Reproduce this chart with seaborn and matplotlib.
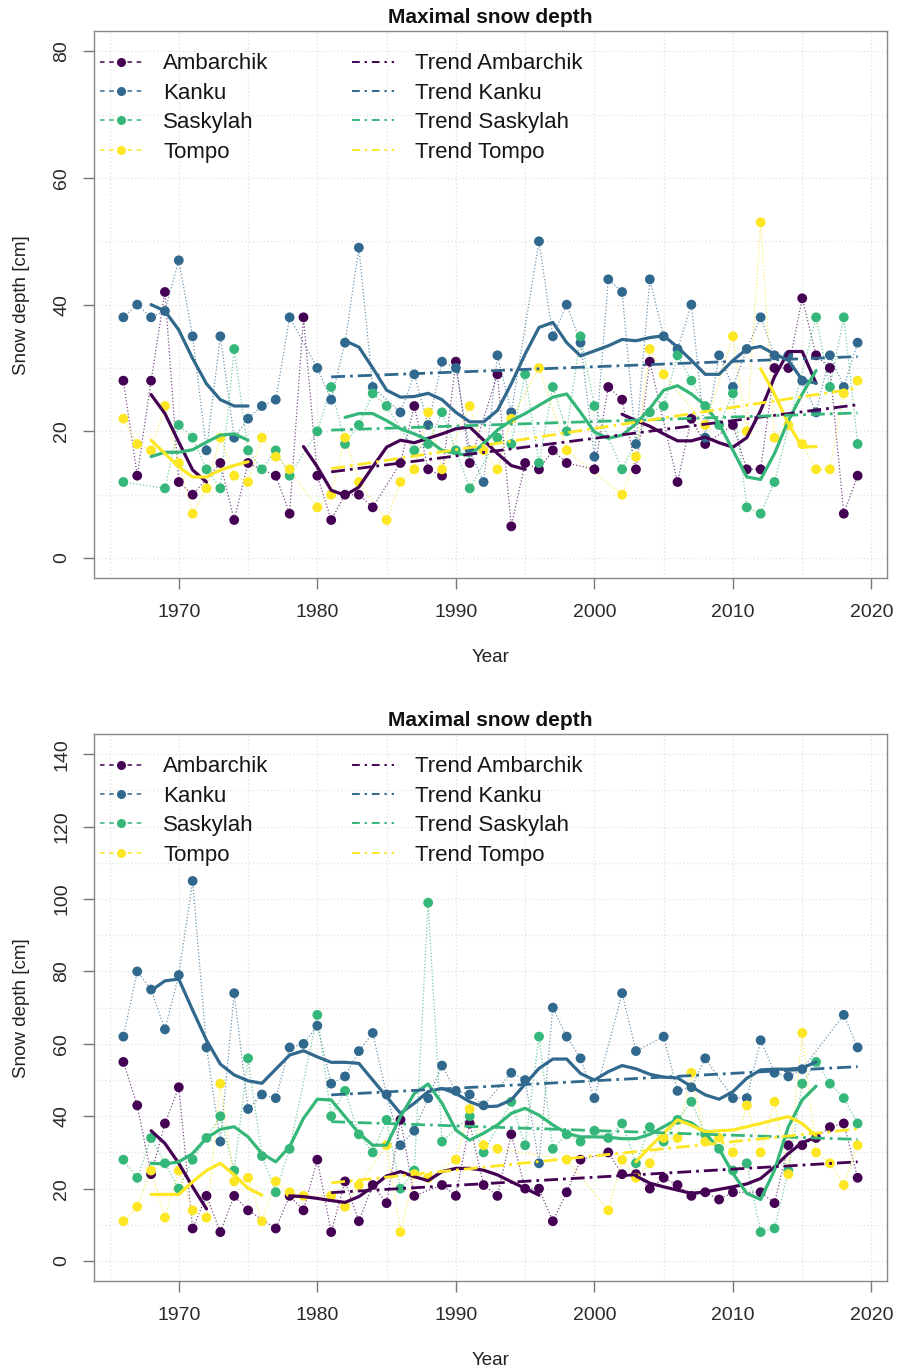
import numpy as np
import pandas as pd
import matplotlib
matplotlib.use("Agg")
import matplotlib.pyplot as plt
import seaborn as sns
from matplotlib.lines import Line2D

nan = np.nan

# Stations and colours (viridis, 4 levels)
stations = ["Ambarchik", "Kanku", "Saskylah", "Tompo"]
colors = ["#440154", "#31688E", "#35B779", "#FDE725"]
palette = dict(zip(stations, colors))

years = list(range(1966, 2020))

top_ambarchik = [28, 13, 28, 42, 12, 10, nan, 15, 6, 15,
                 nan, 13, 7, 38, 13, 6, 10, 10, 8, nan,
                 15, 24, 14, 13, 31, 15, nan, 29, 5, 15,
                 14, 17, 15, nan, 14, 27, 25, 14, 31, nan,
                 12, 22, 18, nan, 21, 14, 14, 30, 30, 41,
                 32, 30, 7, 13]
top_kanku = [38, 40, 38, 39, 47, 35, 17, 35, 19, 22,
             24, 25, 38, nan, 30, 25, 34, 49, 27, nan,
             23, 29, 21, 31, 30, 17, 12, 32, 23, nan,
             50, 35, 40, 34, 16, 44, 42, 18, 44, 35,
             33, 40, 19, 32, 27, 33, 38, 32, 32, 28,
             23, 32, 27, 34]
top_saskylah = [12, nan, nan, 11, 21, 19, 14, 11, 33, 17,
                14, 17, 13, nan, 20, 27, 18, 21, 26, 24,
                nan, 17, 18, 23, 17, 11, nan, 19, 18, 29,
                15, 27, 20, 35, 24, nan, 14, nan, 23, 24,
                32, 28, 24, 21, 26, 8, 7, 12, nan, nan,
                38, 27, 38, 18]
top_tompo = [22, 18, 17, 24, 15, 7, 11, 19, 13, 12,
             19, 16, 14, nan, 8, 10, 19, 12, nan, 6,
             12, 14, 23, 14, nan, 24, 17, 14, 22, nan,
             30, nan, 17, nan, nan, nan, 10, 16, 33, 29,
             nan, nan, 21, nan, 35, 20, 53, 19, 21, 18,
             14, 14, 26, 28]

# smoothed curves: (first year, values)
top_smooth_ambarchik = [(1968, [25.8, 22.8, 18.3, 13.9, 12.0]),
                        (1979, [17.6, 14.4, 10.7, 9.9, 11.2, 14.4, 17.5, 18.6, 18.2, 18.9,
                                19.6, 20.4, 20.7, 18.6, 16.5, 14.6, 14.0]),
                        (2002, [22.7, 21.7, 20.8, 19.6, 18.5, 18.5, 19.1, 18.2, 17.5, 19.0,
                                23.3, 28.6, 32.6, 32.6, 27.6])]
top_smooth_kanku = [(1968, [40, 39, 36, 31.5, 27.5, 25, 24, 24]),
                    (1982, [34.3, 33.3, 30, 26.5, 25.4, 25.5, 26, 25, 23, 21.5,
                            21.5, 23.3, 27.5, 32.2, 36.4, 37.2, 34, 31.9, 32.7, 33.5,
                            34.5, 34.3, 34.8, 35.1, 33.3, 31.2, 29, 29, 31.2, 33,
                            33.4, 32.2, 31.2, 28.1, 27.6])]
top_smooth_saskylah = [(1968, [16, 16.7, 16.7, 17.1, 18.3, 19.4, 19.6, 18.6]),
                       (1982, [22.2, 22.8, 22.8, 21.7, 20.4, 19.6, 18.6, 17, 16.5, 16.2,
                               18.1, 20.2, 21.7, 22.8, 24.1, 25.4, 25.9, 23, 19.9, 18.9,
                               19.4, 21.2, 23.6, 26.5, 27.2, 25.9, 24.1, 21.2, 17, 12.8,
                               12.4, 16.5, 21.7, 25.9, 29.6])]
top_smooth_tompo = [(1968, [18.6, 16.5, 14.4, 12.8, 12.8, 13.9, 14.6, 15.2]),
                    (2012, [29.9, 25.9, 21.2, 17.5, 17.6])]

# linear trends 1981-2019: (start, end)
trend_years = [1981, 2019]
top_trend = {"Ambarchik": [13.6, 24.2], "Kanku": [28.6, 31.8],
             "Saskylah": [20.2, 22.9], "Tompo": [14.1, 26.8]}

# ---- Bottom panel ----
bot_ambarchik = [55, 43, 24, 38, 48, 9, 18, 8, 18, 14,
                 nan, 9, 18, 14, 28, 8, 22, 11, 21, 16,
                 39, 18, nan, 21, 18, 38, 21, 18, 35, 20,
                 20, 11, 19, 28, nan, 30, 24, 24, 20, 23,
                 21, 18, 19, 17, 19, nan, 19, 16, 32, 32,
                 34, 37, 38, 23]
bot_kanku = [62, 80, 75, 64, 79, 105, 59, 33, 74, 42,
             46, 45, 59, 60, 65, 49, 51, 58, 63, 46,
             32, 36, 45, 54, 47, 46, 43, nan, 52, 50,
             27, 70, 62, 56, 45, nan, 74, 58, nan, 62,
             47, 48, 56, nan, 45, 45, 61, 52, 51, 53,
             nan, nan, 68, 59]
bot_saskylah = [28, 23, 34, 27, 20, 28, 34, 40, 25, 56,
                29, 19, 31, nan, 68, 40, 47, 35, 30, 39,
                20, 25, 99, 33, nan, 40, 30, nan, 44, 32,
                62, 31, 35, 33, 36, 34, 38, 27, 37, 33,
                39, 44, 35, 31, 25, 27, 8, 9, 25, 49,
                55, 49, 45, 38]
bot_tompo = [11, 15, 25, 12, 25, 14, 12, 49, 22, 23,
             11, 22, 19, 18, nan, 18, 15, 21, nan, 32,
             8, 24, 23, nan, 28, 42, 32, 31, nan, nan,
             nan, nan, 28, nan, nan, 14, 28, 23, 27, 34,
             34, 52, 33, 34, 30, 43, 30, 44, 24, 63,
             30, 27, 21, 32]

bot_smooth_ambarchik = [(1968, [36, 32.5, 27, 20.5, 14.4]),
                        (1978, [18, 17.8, 17.3, 16.7, 16.2, 17.8, 20.5, 23.5, 24.7, 23.3,
                                22.2, 24.7, 25.6, 25.6, 25.1, 23.8, 21.9, 20.1, 18.2]),
                        (2003, [23.5, 21.5, 20.5, 19.6, 18.7, 19.1, 19.8, 20.5, 21.3, 22.8,
                                26, 29.7, 32.7, 34.2])]
bot_smooth_kanku = [(1968, [74.7, 77.4, 77.9, 69.3, 61, 54.4, 51.4, 49.8, 49.1, 53,
                            56.9, 58.1, 56.4, 54.9, 54.9, 54.6, 50, 45.4, 40.8, 43.6,
                            46.8, 47.7, 46.3, 44, 42.6, 42.8, 44.5, 48.9, 53.2, 55.8,
                            55.8, 51.8, 50, 52.3, 54, 53.1, 51.6, 50.8, 50.6, 48.2,
                            45.9, 44.7, 46.8, 50.5, 52.8, 53, 53, 53.3, 55])]
bot_smooth_saskylah = [(1968, [27, 26.8, 27.4, 29.7, 34, 36.4, 37.1, 34.3, 29.7, 27.4,
                               31.6, 39.4, 44.7, 44.5, 39.9, 35.3, 32, 32, 39.9, 46.3,
                               48.9, 43.6, 36.2, 33.4, 35.3, 37.6, 40.8, 42.2, 40.3, 37.6,
                               35.3, 34.3, 34.3, 34.2, 33.8, 33.8, 35, 37.1, 39.2, 38.2,
                               35.3, 31, 24.2, 18.7, 17, 25.1, 37.1, 44.5, 48.3])]
bot_smooth_tompo = [(1968, [18.4, 18.4, 18.4, 21.9, 25, 27, 23.8, 20.1, 18.2]),
                    (2003, [27.4, 31.5, 35.3, 39, 37.5, 35.7, 36, 36.2, 37.1, 38,
                            39, 39.9, 38, 34.5])]

bot_trend = {"Ambarchik": [18.9, 27.4], "Kanku": [45.9, 53.7],
             "Saskylah": [38.5, 33.6], "Tompo": [21.6, 36.5]}


# ---- helpers to make long tables ----
def obs_frame(series):
    df = pd.DataFrame(dict(zip(stations, series)))
    df["Year"] = years
    df = df.melt(id_vars="Year", var_name="Station", value_name="Depth")
    return df.dropna()


def smooth_frame(smooths):
    rows = []
    for st, segs in zip(stations, smooths):
        for k, (start, vals) in enumerate(segs):
            for i, v in enumerate(vals):
                rows.append((st, f"{st}{k}", start + i, v))
    return pd.DataFrame(rows, columns=["Station", "Seg", "Year", "Depth"])


def trend_frame(trend):
    rows = []
    for st in stations:
        for yr, v in zip(trend_years, trend[st]):
            rows.append((st, yr, v))
    return pd.DataFrame(rows, columns=["Station", "Year", "Depth"])


sns.set_theme(style="white")
plt.rcParams["font.family"] = ["Liberation Sans", "DejaVu Sans"]

W, H = 901, 1371
fig = plt.figure(figsize=(W / 100, H / 100), dpi=100)

dash_dot = (0, (5, 1.8, 1.0, 1.8))


def draw_panel(ax, obs, smooth, trend, ymax):
    # thin dotted connections + points
    sns.lineplot(data=obs, x="Year", y="Depth", hue="Station", hue_order=stations,
                 palette=palette, estimator=None, linestyle=":", linewidth=0.9,
                 alpha=0.7, legend=False, ax=ax)
    sns.scatterplot(data=obs, x="Year", y="Depth", hue="Station", hue_order=stations,
                    palette=palette, s=50, edgecolor="none", legend=False, ax=ax,
                    zorder=3)
    # smoothed curves
    sns.lineplot(data=smooth, x="Year", y="Depth", hue="Station", hue_order=stations,
                 units="Seg", palette=palette, estimator=None, linewidth=2.3,
                 legend=False, ax=ax, zorder=4)
    # trend lines
    sns.lineplot(data=trend, x="Year", y="Depth", hue="Station", hue_order=stations,
                 palette=palette, estimator=None, linewidth=2.0, linestyle=dash_dot,
                 legend=False, ax=ax, zorder=5)

    ax.set_xlim(1966 - 0.04 * 53, 2019 + 0.04 * 53)
    ax.set_ylim(-0.04 * ymax, ymax * 1.04)
    ax.set_xticks(range(1970, 2021, 10))
    ax.set_xticks(range(1965, 2021, 5), minor=True)
    ax.set_yticks(range(0, ymax + 1, 20))
    ax.set_yticks(range(0, ymax + 1, 10), minor=True)
    ax.grid(which="both", color="#e4e4e4", linestyle=":", linewidth=1.0)
    ax.set_axisbelow(True)
    ax.tick_params(which="minor", length=0)
    ax.tick_params(which="major", length=8, width=1, color="#777777",
                   labelsize=14, labelcolor="#2a2a2a", pad=10, direction="out",
                   bottom=True, left=True)
    ax.tick_params(axis="x", pad=10.5)
    ax.tick_params(axis="y", labelrotation=90, pad=9)
    for lab in ax.get_yticklabels():
        lab.set_va("center")
    for sp in ax.spines.values():
        sp.set_color("#888888")
        sp.set_linewidth(1.0)

    ax.set_title("Maximal snow depth", fontsize=15, fontweight="bold", pad=6,
                 color="#111111")
    ax.set_xlabel("Year", fontsize=13.5, labelpad=20, color="#222222")
    ax.set_ylabel("Snow depth [cm]", fontsize=13.5, labelpad=17, color="#222222")

    # legend: observed series | trend lines
    handles = [Line2D([], [], color=c, linestyle=(0, (3, 3)), linewidth=1.1,
                      marker="o", markersize=6.5, markeredgewidth=0) for c in colors]
    handles += [Line2D([], [], color=c, linestyle=(0, (4, 2.5, 1.2, 2.5)),
                       linewidth=1.4) for c in colors]
    labels = stations + [f"Trend {s}" for s in stations]
    ax.legend(handles, labels, ncol=2, loc="upper left",
              bbox_to_anchor=(6 / 793, 1 - 22.4 / 548),
              frameon=False, fontsize=16, handlelength=1.9, handletextpad=0.95,
              columnspacing=3.74, labelspacing=0.38, borderaxespad=0,
              borderpad=0, labelcolor="#161616")


ax_top = fig.add_axes([94 / W, 1 - 578.3 / H, 793 / W, 547.3 / H])
draw_panel(ax_top,
           obs_frame([top_ambarchik, top_kanku, top_saskylah, top_tompo]),
           smooth_frame([top_smooth_ambarchik, top_smooth_kanku,
                         top_smooth_saskylah, top_smooth_tompo]),
           trend_frame(top_trend), 80)

ax_bot = fig.add_axes([94 / W, 1 - 1281.3 / H, 793 / W, 547.3 / H])
draw_panel(ax_bot,
           obs_frame([bot_ambarchik, bot_kanku, bot_saskylah, bot_tompo]),
           smooth_frame([bot_smooth_ambarchik, bot_smooth_kanku,
                         bot_smooth_saskylah, bot_smooth_tompo]),
           trend_frame(bot_trend), 140)

fig.savefig("out.png", dpi=100)
